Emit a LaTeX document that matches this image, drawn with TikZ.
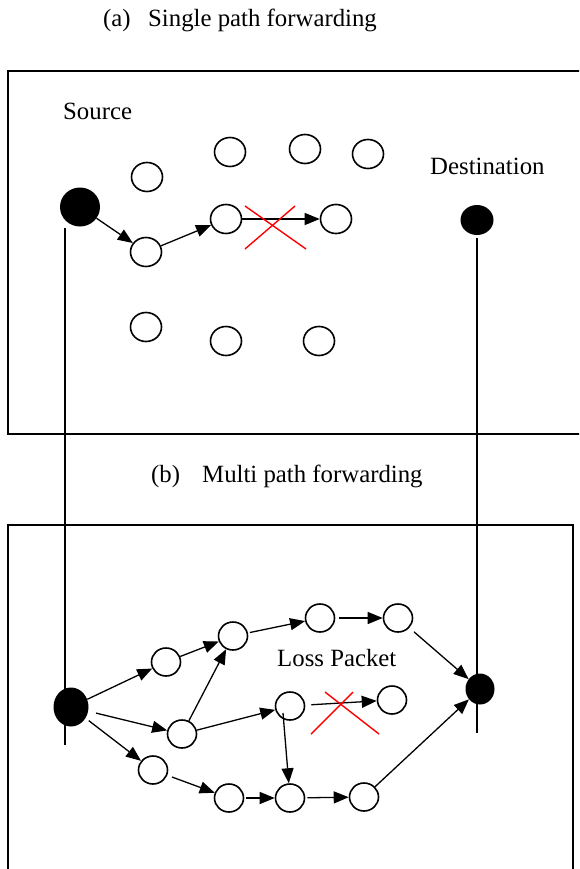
\documentclass[tikz,border=0pt]{standalone}
\usepackage{fontspec}
\setmainfont{Liberation Serif}
\usetikzlibrary{arrows.meta,shapes.geometric}
\begin{document}
\begin{tikzpicture}[x=1pt,y=-1pt,
  lbl/.style={inner sep=0pt,anchor=base west,font=\fontsize{24.8}{28}\selectfont},
  hole/.style={draw,ellipse,line width=1.6pt,minimum width=31pt,minimum height=29pt,inner sep=0pt},
  bhole/.style={draw,ellipse,line width=1.6pt,minimum width=29pt,minimum height=28pt,inner sep=0pt},
  term/.style={fill=black,ellipse,inner sep=0pt},
  frame/.style={line width=1.6pt},
  wire/.style={line width=1.3pt},
  arr/.style={line width=1.3pt,-{Triangle[length=15pt,width=12pt]}},
  cross/.style={red,line width=1.4pt}]
\useasboundingbox (0,0) rectangle (579,869);
\begin{scope}
\clip (0,0) rectangle (579,869);
% titles
\node[lbl] (ta) at (103,27) {(a)};
\node[lbl] (tta) at (148,27) {Single path forwarding};
\node[lbl] (tb) at (151,482) {(b)};
\node[lbl] (ttb) at (202,482) {Multi path forwarding};
% frames
\draw[frame] (600,71) -- (8,71) -- (8,434) -- (600,434);
\draw[frame] (8,890) -- (8,525) -- (573,525) -- (573,890);
% ----- (a) -----
\node[lbl] (srcl) at (63,120) {Source};
\node[lbl] (dstl) at (430,175) {Destination};
\node[term,minimum width=40pt,minimum height=39pt] (S) at (80,207) {};
\node[term,minimum width=33pt,minimum height=30pt] (D) at (477,220) {};
\node[hole] (a1) at (147,177) {};
\node[hole] (a2) at (230,152) {};
\node[hole] (a3) at (305,149) {};
\node[hole] (a4) at (368,154) {};
\node[hole] (a5) at (146,252) {};
\node[hole] (a6) at (226,219) {};
\node[hole] (a7) at (336,219) {};
\node[hole] (a8) at (146,327) {};
\node[hole] (a9) at (226,341) {};
\node[hole] (a10) at (319,341) {};
\draw[arr] (S) -- (a5);
\draw[arr] (a5) -- (a6);
\draw[arr] (a6) -- (a7);
\coordinate (xa1) at (245,206); \coordinate (xa2) at (306,249);
\coordinate (xa3) at (295,206); \coordinate (xa4) at (245,249);
\draw[cross] (xa1) -- (xa2);
\draw[cross] (xa3) -- (xa4);
% long vertical lines
\coordinate (l1) at (65,228); \coordinate (l2) at (65,745);
\coordinate (r1) at (477,238); \coordinate (r2) at (477,733);
\draw[wire] (l1) -- (l2);
\draw[wire] (r1) -- (r2);
% ----- (b) -----
\node[term,minimum width=35pt,minimum height=39pt] (BS) at (71,707) {};
\node[term,minimum width=29pt,minimum height=31pt] (BD) at (480,689) {};
\node[bhole] (n1) at (166,662) {};
\node[bhole] (n2) at (233,636) {};
\node[bhole] (n3) at (320,618) {};
\node[bhole] (n4) at (398,618) {};
\node[bhole] (n5) at (182,734) {};
\node[bhole] (n6) at (290,706) {};
\node[bhole] (n7) at (392,700) {};
\node[bhole] (n8) at (153,770) {};
\node[bhole] (n9) at (229,798) {};
\node[bhole] (n10) at (290,798) {};
\node[bhole] (n11) at (364,797) {};
\node[lbl] (loss) at (277,666) {Loss Packet};
\coordinate (n6s) at (283,713);
\draw[arr] (BS) -- (n1);
\draw[arr] (n1) -- (n2);
\draw[arr,shorten <=8pt] (BS) -- (n5);
\draw[arr,shorten <=4pt] (BS) -- (n8);
\draw[arr] (n5) -- (n2);
\draw[arr,shorten <=2pt] (n2) -- (n3);
\draw[arr,shorten <=4pt] (n3) -- (n4);
\draw[arr,shorten <=6pt] (n4) -- (BD);
\draw[arr] (n5) -- (n6);
\draw[arr,shorten <=6pt] (n6) -- (n7);
\draw[arr] (n6s) -- (n10);
\draw[arr,shorten <=5pt] (n8) -- (n9);
\draw[arr,shorten <=2pt] (n9) -- (n10);
\draw[arr,shorten <=2pt] (n10) -- (n11);
\draw[arr] (n11) -- (BD);
\coordinate (xb1) at (325,692); \coordinate (xb2) at (379,734);
\coordinate (xb3) at (353,692); \coordinate (xb4) at (311,734);
\draw[cross] (xb1) -- (xb2);
\draw[cross] (xb3) -- (xb4);
\end{scope}
\end{tikzpicture}
\end{document}
